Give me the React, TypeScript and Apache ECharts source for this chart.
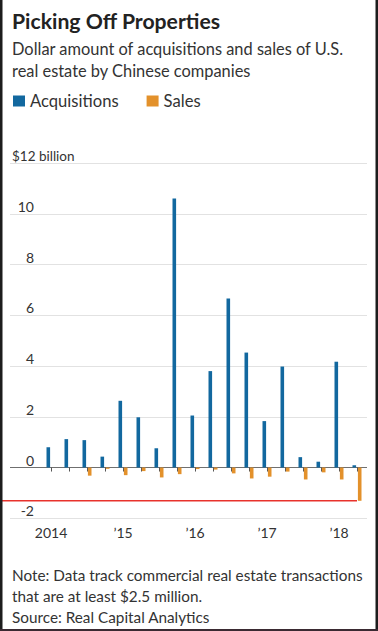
import React, { useEffect, useRef } from 'react';
import * as echarts from 'echarts';

const quarters = [
  '2014 Q1', '2014 Q2', '2014 Q3', '2014 Q4',
  '2015 Q1', '2015 Q2', '2015 Q3', '2015 Q4',
  '2016 Q1', '2016 Q2', '2016 Q3', '2016 Q4',
  '2017 Q1', '2017 Q2', '2017 Q3', '2017 Q4',
  '2018 Q1', '2018 Q2',
];
const yearTickLabels = ['2014', '\u201915', '\u201916', '\u201917', '\u201918'];
const acquisitions = [0.8, 1.12, 1.08, 0.43, 2.63, 1.98, 0.76, 10.6, 2.05, 3.8, 6.66, 4.53, 1.83, 3.98, 0.41, 0.23, 4.17, 0.09];
const sales = [0, 0, -0.32, -0.05, -0.3, -0.14, -0.39, -0.26, -0.06, -0.08, -0.23, -0.43, -0.36, -0.16, -0.47, -0.19, -0.47, -1.31];
const yMin = -2;
const yMax = 12;
const yStep = 2;

const FONT = 'Lato';
const BLUE = '#12689f';
const ORANGE = '#e3912b';

export default function App() {
  const ref = useRef<HTMLDivElement>(null);
  useEffect(() => {
    if (!ref.current) return;
    const chart = echarts.init(ref.current, null, { renderer: 'svg' });
    const gridTop = 163;
    const gridBottom = 631 - 518.3;
    chart.setOption({
      animation: false,
      backgroundColor: '#ffffff',
      textStyle: { fontFamily: FONT },
      title: [
        {
          text: 'Picking Off Properties',
          subtext: 'Dollar amount of acquisitions and sales of U.S.\nreal estate by Chinese companies',
          left: 12,
          top: 8,
          padding: 0,
          itemGap: 3,
          textStyle: { fontFamily: FONT, fontSize: 21.2, fontWeight: 'bold', color: '#222', lineHeight: 26 },
          subtextStyle: { fontFamily: FONT, fontSize: 16.4, color: '#333', lineHeight: 22 },
        },
        {
          text: 'Note: Data track commercial real estate transactions\nthat are at least $2.5 million.\nSource: Real Capital Analytics',
          left: 12,
          top: 564,
          padding: 0,
          textStyle: { fontFamily: FONT, fontSize: 15.3, fontWeight: 'normal', color: '#333', lineHeight: 21 },
        },
      ],
      legend: {
        left: 13,
        top: 92,
        padding: 0,
        itemWidth: 12,
        itemHeight: 11,
        itemGap: 28,
        icon: 'rect',
        textStyle: { fontFamily: FONT, fontSize: 16.6, color: '#333', lineHeight: 18 },
        data: ['Acquisitions', 'Sales'],
      },
      grid: [
        { left: 42, right: 12, top: gridTop, bottom: gridBottom, containLabel: false },
        { left: 10, right: 11, top: gridTop, bottom: gridBottom, containLabel: false },
      ],
      xAxis: [
        {
          type: 'category',
          gridIndex: 0,
          data: quarters,
          axisLine: { show: false },
          axisTick: { show: true, alignWithLabel: true, interval: 0, length: 4, lineStyle: { color: '#555', width: 1 } },
          axisLabel: {
            interval: 0,
            margin: 7,
            fontFamily: FONT,
            fontSize: 14,
            color: '#333',
            formatter: (_v: string, i: number) => (i % 4 === 0 ? yearTickLabels[i / 4] : ''),
          },
          splitLine: { show: false },
        },
        { type: 'value', gridIndex: 1, show: false, min: 0, max: 1 },
      ],
      yAxis: [
        {
          type: 'value',
          gridIndex: 0,
          min: yMin,
          max: yMax,
          interval: yStep,
          show: false,
          splitLine: { show: false },
        },
        {
          type: 'value',
          gridIndex: 1,
          min: yMin,
          max: yMax,
          interval: yStep,
          axisLine: { show: false },
          axisTick: { show: false },
          splitLine: {
            show: true,
            lineStyle: { color: ['#e2e2e2', '#6f6f6f', '#e2e2e2', '#e2e2e2', '#e2e2e2', '#e2e2e2', '#e2e2e2', '#e2e2e2'], width: 1 },
          },
          axisLabel: {
            inside: true,
            margin: 2,
            align: 'left',
            verticalAlign: 'bottom',
            fontFamily: FONT,
            fontSize: 13.5,
            lineHeight: 15,
            color: '#333',
            formatter: (v: number) => (v === yMax ? '$' + v + ' billion' : '{n|' + v + '}'),
            rich: {
              n: { width: 22, align: 'right', fontFamily: FONT, fontSize: 14, lineHeight: 15, color: '#333' },
            },
          },
        },
      ],
      series: [
        {
          name: 'Acquisitions',
          type: 'bar',
          xAxisIndex: 0,
          yAxisIndex: 0,
          data: acquisitions,
          barWidth: 3.6,
          barGap: '50%',
          itemStyle: { color: BLUE },
        },
        {
          name: 'Sales',
          type: 'bar',
          xAxisIndex: 0,
          yAxisIndex: 0,
          data: sales,
          barWidth: 3.6,
          barGap: '50%',
          itemStyle: { color: ORANGE },
        },
      ],
    });

    const last = sales.length - 1;
    const p = chart.convertToPixel({ xAxisIndex: 0, yAxisIndex: 0 }, [last, sales[last]]) as number[];
    chart.setOption({
      graphic: [
        { type: 'line', shape: { x1: 2, y1: p[1], x2: p[0], y2: p[1] }, style: { stroke: '#e8322c', lineWidth: 1.5 }, z: 10 },
        { type: 'rect', shape: { x: 0, y: 0, width: 2.5, height: 631 }, style: { fill: '#1d1d1d' }, z: 20 },
        { type: 'rect', shape: { x: 375.5, y: 0, width: 2.5, height: 631 }, style: { fill: '#1d1d1d' }, z: 20 },
        { type: 'rect', shape: { x: 0, y: 629, width: 378, height: 2 }, style: { fill: '#3a2a32' }, z: 20 },
      ],
    });
    return () => chart.dispose();
  }, []);
  return <div ref={ref} style={{ position: 'fixed', left: 0, top: 0, width: 378, height: 631 }} />;
}
